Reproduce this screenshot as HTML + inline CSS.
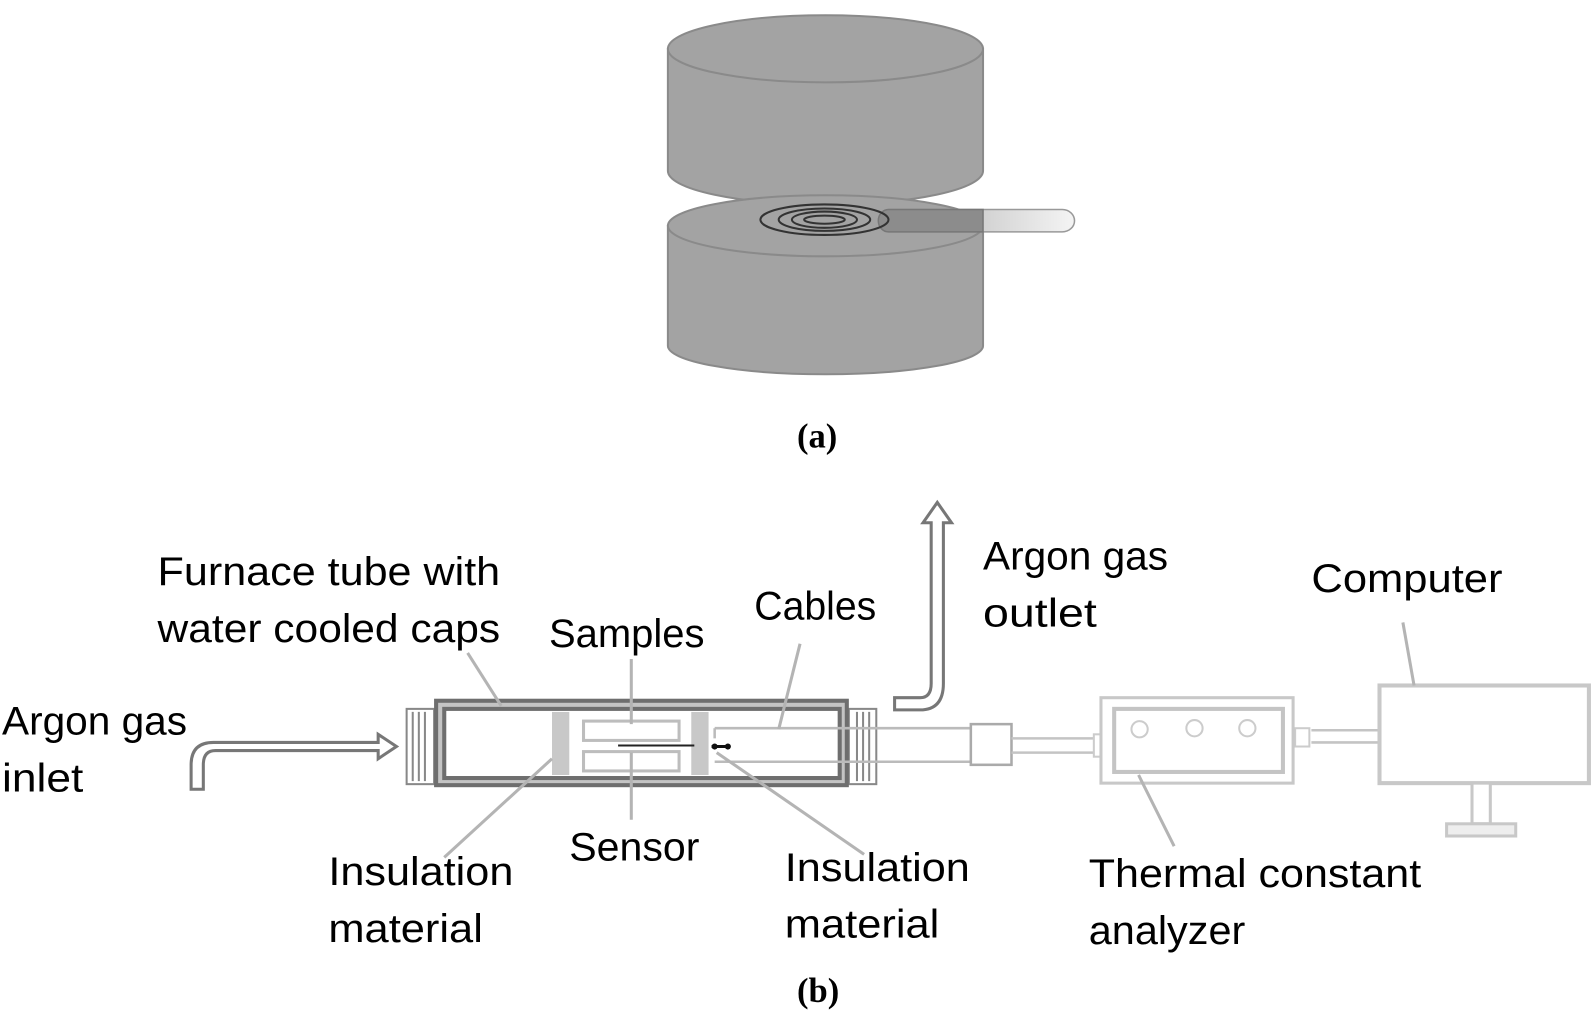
<!DOCTYPE html>
<html><head><meta charset="utf-8"><style>
html,body{margin:0;padding:0;background:#fff;}
svg{display:block;}
text{font-family:"Liberation Sans",sans-serif;font-size:39px;fill:#000;}
.cap{font-family:"Liberation Serif",serif;font-weight:bold;font-size:34px;}
</style></head><body>
<svg width="1594" height="1014" viewBox="0 0 1568 997" preserveAspectRatio="none" xmlns="http://www.w3.org/2000/svg">
<defs>
<linearGradient id="pg" x1="0" y1="0" x2="1" y2="0">
<stop offset="0" stop-color="#b0b0b0"/><stop offset="1" stop-color="#f4f4f4"/></linearGradient>
</defs>
<g stroke="#8a8a8a" stroke-width="2" fill="#a3a3a3">
<path d="M657 48 L657 168 A155 33 0 0 0 967 168 L967 48 Z"/>
<ellipse cx="812" cy="48" rx="155" ry="33"/>
<path d="M657 222 L657 340 A155 28 0 0 0 967 340 L967 222 Z"/>
<ellipse cx="812" cy="222" rx="155" ry="30"/>
</g>
<path d="M874 206 L1045 206 A12 11 0 0 1 1045 228 L874 228 Z" fill="url(#pg)" stroke="#999" stroke-width="1.5"/>
<path d="M874 206 L967 206 L967 228 L874 228 A10 11 0 0 1 874 206Z" fill="#8c8c8c" stroke="#777" stroke-width="1.5"/>
<g fill="none" stroke="#333" stroke-width="2">
<ellipse cx="811" cy="216" rx="63" ry="15"/>
<ellipse cx="811" cy="216" rx="45" ry="11"/>
<ellipse cx="811" cy="216" rx="32" ry="8"/>
<ellipse cx="811" cy="216" rx="20" ry="4"/>
</g>
<text class="cap" x="784" y="440">(a)</text>
<path d="M188 776 L188 752 Q188 730 210 730 L372 730 L372 722 L390 734 L372 746 L372 738 L212 738 Q200 738 200 752 L200 776 Z" fill="#fff" stroke="#777" stroke-width="3"/>
<path d="M880 686 L905 686 Q916 686 916 672 L916 514 L908 514 L922 494 L936 514 L928 514 L928 672 Q928 698 905 698 L880 698 Z" fill="#fff" stroke="#777" stroke-width="3"/>
<g fill="#fff" stroke="#888" stroke-width="2">
<rect x="400" y="697" width="27" height="74"/>
<rect x="835" y="697" width="27" height="74"/>
</g>
<g stroke="#888" stroke-width="2">
<line x1="406" y1="700" x2="406" y2="768"/><line x1="412" y1="700" x2="412" y2="768"/><line x1="418" y1="700" x2="418" y2="768"/>
<line x1="843" y1="700" x2="843" y2="768"/><line x1="849" y1="700" x2="849" y2="768"/><line x1="855" y1="700" x2="855" y2="768"/>
</g>
<rect x="429" y="689" width="404" height="83" fill="#c4c4c4" stroke="#6e6e6e" stroke-width="4"/>
<rect x="437" y="697" width="389" height="68" fill="#fff" stroke="#6e6e6e" stroke-width="4"/>
<rect x="543" y="700" width="17" height="62" fill="#c8c8c8"/>
<rect x="680" y="700" width="17" height="62" fill="#c8c8c8"/>
<g fill="none" stroke="#bdbdbd" stroke-width="3">
<rect x="574" y="709" width="94" height="19"/>
<rect x="574" y="739" width="94" height="19"/>
</g>
<line x1="608" y1="733" x2="683" y2="733" stroke="#222" stroke-width="2"/>
<line x1="700" y1="734" x2="718" y2="734" stroke="#111" stroke-width="3"/>
<circle cx="703" cy="734" r="3" fill="#111"/><circle cx="716" cy="734" r="3" fill="#111"/>
<g stroke="#bbb" stroke-width="2.5">
<line x1="703" y1="716" x2="955" y2="716"/><line x1="703" y1="749" x2="955" y2="749"/>
<line x1="703" y1="716" x2="703" y2="726"/>
</g>
<rect x="955" y="712" width="40" height="40" fill="#fff" stroke="#aaa" stroke-width="2.5"/>
<g stroke="#c4c4c4" stroke-width="2.5">
<line x1="995" y1="726" x2="1082" y2="726"/><line x1="995" y1="740" x2="1082" y2="740"/>
<line x1="1290" y1="718" x2="1356" y2="718"/><line x1="1290" y1="730" x2="1356" y2="730"/>
</g>
<rect x="1076" y="722" width="7" height="22" fill="#fff" stroke="#ccc" stroke-width="2"/>
<rect x="1274" y="716" width="14" height="18" fill="#fff" stroke="#ccc" stroke-width="2"/>
<rect x="1083" y="686" width="189" height="84" fill="#fff" stroke="#c8c8c8" stroke-width="3"/>
<rect x="1096" y="697" width="166" height="62" fill="#fff" stroke="#c4c4c4" stroke-width="4"/>
<g fill="#fff" stroke="#ccc" stroke-width="2"><circle cx="1121" cy="717" r="8"/><circle cx="1175" cy="716" r="8"/><circle cx="1227" cy="716" r="8"/></g>
<rect x="1357" y="674" width="206" height="96" fill="#fff" stroke="#c8c8c8" stroke-width="4"/>
<rect x="1448" y="770" width="18" height="40" fill="#fff" stroke="#c8c8c8" stroke-width="3"/>
<rect x="1423" y="810" width="68" height="12" fill="#eee" stroke="#c8c8c8" stroke-width="3"/>
<g stroke="#b4b4b4" stroke-width="3">
<line x1="460" y1="642" x2="493" y2="694"/>
<line x1="621" y1="648" x2="621" y2="712"/>
<line x1="787" y1="633" x2="766" y2="717"/>
<line x1="437" y1="843" x2="543" y2="746"/>
<line x1="621" y1="740" x2="621" y2="806"/>
<line x1="705" y1="740" x2="850" y2="840"/>
<line x1="1120" y1="762" x2="1155" y2="832"/>
<line x1="1380" y1="612" x2="1391" y2="674"/>
</g>
<g lengthAdjust="spacingAndGlyphs">
<text x="155" y="575" textLength="337" lengthAdjust="spacingAndGlyphs">Furnace tube with</text>
<text x="155" y="631" textLength="337" lengthAdjust="spacingAndGlyphs">water cooled caps</text>
<text x="2" y="722" textLength="182" lengthAdjust="spacingAndGlyphs">Argon gas</text>
<text x="2" y="778" textLength="80" lengthAdjust="spacingAndGlyphs">inlet</text>
<text x="540" y="636" textLength="153" lengthAdjust="spacingAndGlyphs">Samples</text>
<text x="742" y="609" textLength="120" lengthAdjust="spacingAndGlyphs">Cables</text>
<text x="967" y="560" textLength="182" lengthAdjust="spacingAndGlyphs">Argon gas</text>
<text x="967" y="616" textLength="112" lengthAdjust="spacingAndGlyphs">outlet</text>
<text x="1290" y="582" textLength="188" lengthAdjust="spacingAndGlyphs">Computer</text>
<text x="323" y="870" textLength="182" lengthAdjust="spacingAndGlyphs">Insulation</text>
<text x="323" y="926" textLength="152" lengthAdjust="spacingAndGlyphs">material</text>
<text x="560" y="846" textLength="128" lengthAdjust="spacingAndGlyphs">Sensor</text>
<text x="772" y="866" textLength="182" lengthAdjust="spacingAndGlyphs">Insulation</text>
<text x="772" y="922" textLength="152" lengthAdjust="spacingAndGlyphs">material</text>
<text x="1071" y="872" textLength="327" lengthAdjust="spacingAndGlyphs">Thermal constant</text>
<text x="1071" y="928" textLength="154" lengthAdjust="spacingAndGlyphs">analyzer</text>
</g>
<text class="cap" x="784" y="985">(b)</text>
</svg>
</body></html>
